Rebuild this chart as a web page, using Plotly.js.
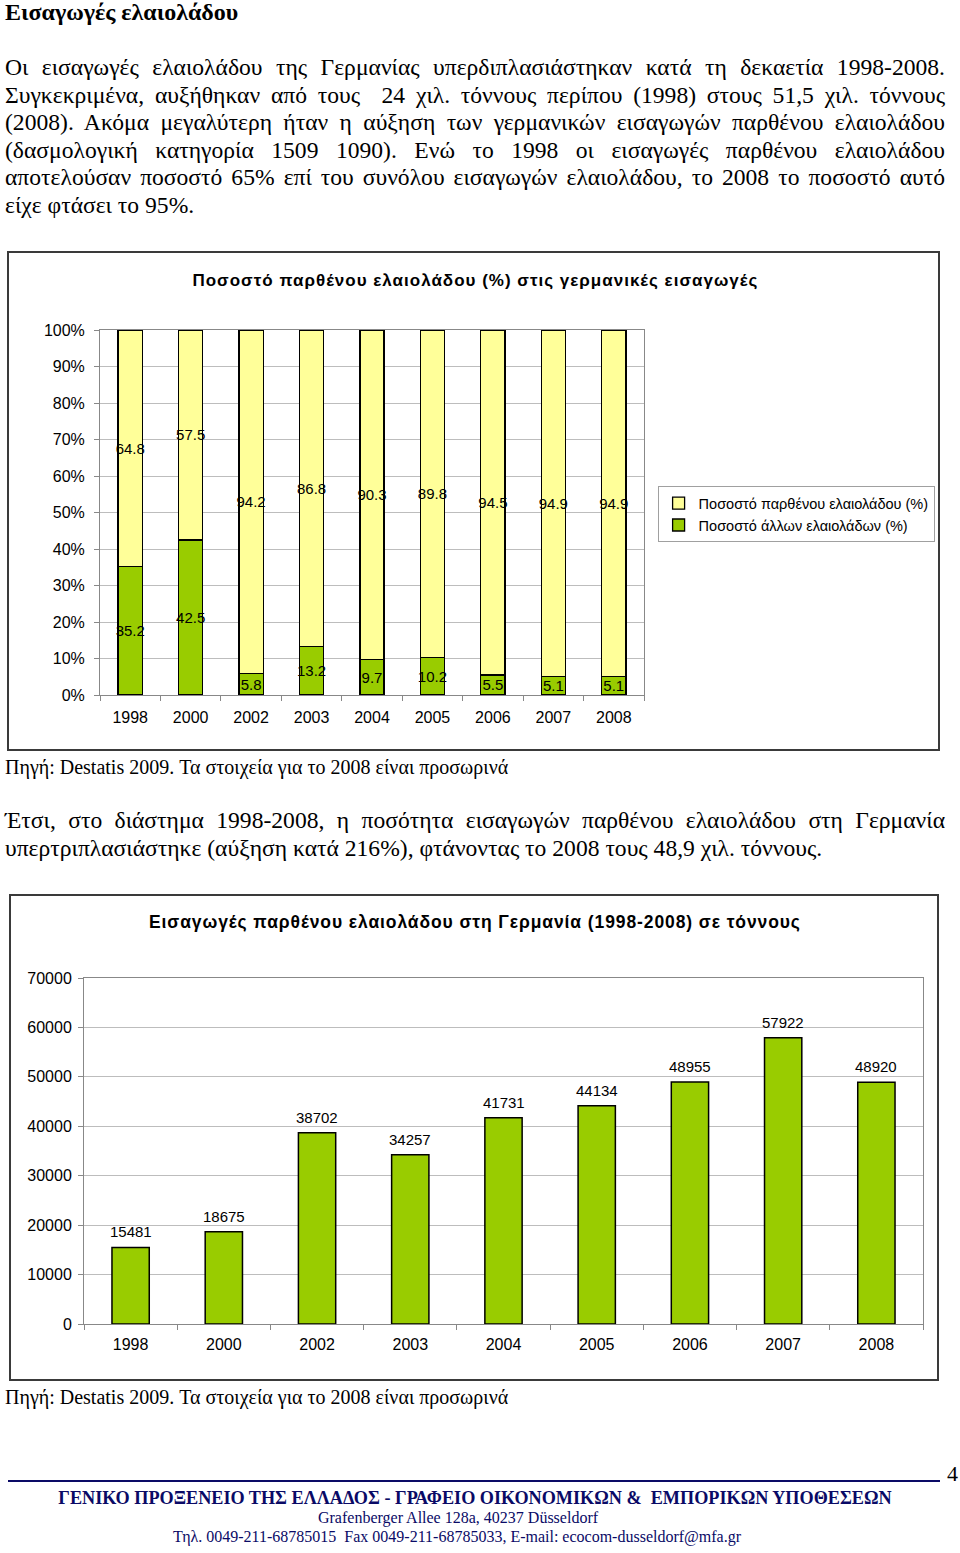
<!DOCTYPE html>
<html>
<head>
<meta charset="utf-8">
<script src="https://cdn.plot.ly/plotly-3.0.1.min.js"></script>
<style>
  html, body { margin:0; padding:0; background:#fff; }
  body { width:960px; height:1553px; position:relative; overflow:hidden; font-family:"Liberation Serif","Times New Roman",serif; color:#000; }
  .ln { position:absolute; left:5px; white-space:nowrap; font-size:23.6px; line-height:28px; height:28px; }
  .box { position:absolute; border:2px solid #3a3a3a; }
  .src { position:absolute; left:5px; font-size:20px; line-height:24px; white-space:nowrap; }
  .foot { position:absolute; text-align:center; color:#0a0a66; white-space:nowrap; }
  #c1 .gtitle { letter-spacing:1px; }
  #c2 .gtitle { letter-spacing:0.9px; }
</style>
</head>
<body>
<div class="ln" style="top:-2px;font-weight:bold;font-size:24px;">Εισαγωγές ελαιολάδου</div>

<div class="ln j" style="top:53px;">Οι εισαγωγές ελαιολάδου της Γερμανίας υπερδιπλασιάστηκαν κατά τη δεκαετία 1998-2008.</div>
<div class="ln j" style="top:81px;">Συγκεκριμένα, αυξήθηκαν από τους &nbsp;24 χιλ. τόννους περίπου (1998) στους 51,5 χιλ. τόννους</div>
<div class="ln j" style="top:108px;">(2008). Ακόμα μεγαλύτερη ήταν η αύξηση των γερμανικών εισαγωγών παρθένου ελαιολάδου</div>
<div class="ln j" style="top:136px;">(δασμολογική κατηγορία 1509 1090). Ενώ το 1998 οι εισαγωγές παρθένου ελαιολάδου</div>
<div class="ln j" style="top:163px;">αποτελούσαν ποσοστό 65% επί του συνόλου εισαγωγών ελαιολάδου, το 2008 το ποσοστό αυτό</div>
<div class="ln" style="top:191px;">είχε φτάσει το 95%.</div>

<div class="box" style="left:7px;top:251px;width:929px;height:496px;"><div id="c1" style="width:929px;height:496px;"></div></div>

<div class="src" style="top:755px;">Πηγή: Destatis 2009. Τα στοιχεία για το 2008 είναι προσωρινά</div>

<div class="ln j" style="top:806px;">Έτσι, στο διάστημα 1998-2008, η ποσότητα εισαγωγών παρθένου ελαιολάδου στη Γερμανία</div>
<div class="ln" style="top:834px;">υπερτριπλασιάστηκε (αύξηση κατά 216%), φτάνοντας το 2008 τους 48,9 χιλ. τόννους.</div>

<div class="box" style="left:9px;top:894px;width:926px;height:483px;"><div id="c2" style="width:926px;height:483px;"></div></div>

<div class="src" style="top:1385px;">Πηγή: Destatis 2009. Τα στοιχεία για το 2008 είναι προσωρινά</div>

<div style="position:absolute;left:8px;top:1480px;width:932px;height:2px;background:#0a0a66;"></div>
<div style="position:absolute;left:947px;top:1460px;font-size:22px;line-height:28px;">4</div>
<div class="foot" style="left:0;width:950px;top:1486px;font-size:18.2px;font-weight:bold;line-height:24px;">ΓΕΝΙΚΟ ΠΡΟΞΕΝΕΙΟ ΤΗΣ ΕΛΛΑΔΟΣ - ΓΡΑΦΕΙΟ ΟΙΚΟΝΟΜΙΚΩΝ &amp; &nbsp;ΕΜΠΟΡΙΚΩΝ ΥΠΟΘΕΣΕΩΝ</div>
<div class="foot" style="left:0;width:916px;top:1508px;font-size:16px;line-height:20px;">Grafenberger Allee 128a, 40237 Düsseldorf</div>
<div class="foot" style="left:0;width:914px;top:1527px;font-size:16px;line-height:20px;">Τηλ. 0049-211-68785015 &nbsp;Fax 0049-211-68785033, E-mail: ecocom-dusseldorf@mfa.gr</div>

<script>
// justify single lines to 940px by adjusting word spacing
document.querySelectorAll(".j").forEach(el => {
  const w = el.getBoundingClientRect().width;
  const spaces = (el.textContent.match(/[ \u00a0]/g) || []).length;
  if (spaces > 0) el.style.wordSpacing = ((940 - w) / spaces) + "px";
});

// ---- Data ----
const years = ["1998","2000","2002","2003","2004","2005","2006","2007","2008"];
const virginShare = [64.8, 57.5, 94.2, 86.8, 90.3, 89.8, 94.5, 94.9, 94.9];
const otherShare  = [35.2, 42.5, 5.8, 13.2, 9.7, 10.2, 5.5, 5.1, 5.1];
const virginTonnes = [15481, 18675, 38702, 34257, 41731, 44134, 48955, 57922, 48920];
const pctTicks = [0,10,20,30,40,50,60,70,80,90,100];
const tonTicks = [0,10000,20000,30000,40000,50000,60000,70000];

const FONT = "Arial, 'Liberation Sans', sans-serif";
const YELLOW = "#FFFF99";
const GREEN = "#99CC00";
const GRID = "#BDBDBD";
const AXIS = "#888888";

// ---- Chart 1 ----
const c1 = [
  {
    type:"bar", x:years, y:otherShare, name:"Ποσοστό άλλων ελαιολάδων (%)",
    marker:{color:GREEN, line:{color:"#000", width:1.3}},
    text:otherShare.map(String), textposition:"inside", insidetextanchor:"middle",
    textangle:0, constraintext:"none",
    textfont:{family:FONT, size:15, color:"#000"}, hoverinfo:"skip"
  },
  {
    type:"bar", x:years, y:virginShare, name:"Ποσοστό παρθένου ελαιολάδου (%)",
    marker:{color:YELLOW, line:{color:"#000", width:1.3}},
    text:virginShare.map(String), textposition:"inside", insidetextanchor:"middle",
    textangle:0, constraintext:"none",
    textfont:{family:FONT, size:15, color:"#000"}, hoverinfo:"skip"
  }
];
const l1 = {
  width:929, height:496,
  margin:{l:91, r:294, t:77, b:54, autoexpand:false},
  paper_bgcolor:"#fff", plot_bgcolor:"#fff",
  barmode:"stack", bargap:0.6,
  font:{family:FONT, size:16, color:"#000"},
  title:{text:"Ποσοστό παρθένου ελαιολάδου (%) στις γερμανικές εισαγωγές",
         font:{family:FONT, size:17, color:"#000", weight:"bold"},
         x:0.502, xref:"container", xanchor:"center", y:0.945, yref:"container", yanchor:"middle"},
  xaxis:{type:"category", showgrid:false, showline:true, linecolor:AXIS, mirror:true,
         ticks:"outside", tickson:"boundaries", ticklen:5, tickcolor:AXIS, ticklabelstandoff:8,
         tickfont:{family:FONT, size:16, color:"#000"}, fixedrange:true},
  yaxis:{range:[0,100], tickvals:pctTicks, ticktext:pctTicks.map(v=>v+"%"),
         showgrid:true, gridcolor:GRID, showline:true, linecolor:AXIS, mirror:true,
         ticks:"outside", ticklen:5, tickcolor:AXIS, zeroline:false, ticklabelstandoff:6,
         tickfont:{family:FONT, size:16, color:"#000"}, fixedrange:true},
  legend:{x:1.025, xanchor:"left", y:0.572, yanchor:"top", traceorder:"reversed",
          bordercolor:"#A0A0A0", borderwidth:1, font:{family:FONT, size:14.5, color:"#000"},
          itemwidth:30, tracegroupgap:0},
  showlegend:true
};
Plotly.newPlot("c1", c1, l1, {staticPlot:true, displayModeBar:false});

// ---- Chart 2 ----
const c2 = [{
  type:"bar", x:years, y:virginTonnes,
  marker:{color:GREEN, line:{color:"#000", width:1.5}},
  hoverinfo:"skip"
}];
// value labels above each bar (category index i on the category axis)
const c2Labels = virginTonnes.map((v, i) => ({
  x: i, y: v, xref:"x", yref:"y",
  text: String(v), showarrow:false,
  yanchor:"bottom", yshift:5,
  font:{family:FONT, size:15, color:"#000"}
}));
const l2 = {
  width:926, height:483,
  margin:{l:73, r:14, t:82, b:55, autoexpand:false},
  paper_bgcolor:"#fff", plot_bgcolor:"#fff",
  bargap:0.6, showlegend:false,
  font:{family:FONT, size:16, color:"#000"},
  title:{text:"Εισαγωγές παρθένου ελαιολάδου στη Γερμανία (1998-2008) σε τόννους",
         font:{family:FONT, size:17.5, color:"#000", weight:"bold"},
         x:0.501, xref:"container", xanchor:"center", y:0.946, yref:"container", yanchor:"middle"},
  xaxis:{type:"category", categoryarray:years, range:[-0.5, years.length - 0.5],
         showgrid:false, showline:true, linecolor:AXIS, mirror:true,
         ticks:"outside", tickson:"boundaries", ticklen:5, tickcolor:AXIS, ticklabelstandoff:6,
         tickfont:{family:FONT, size:16, color:"#000"}, fixedrange:true},
  yaxis:{range:[0,70000], tickvals:tonTicks, ticktext:tonTicks.map(String),
         showgrid:true, gridcolor:GRID, showline:true, linecolor:AXIS, mirror:true,
         ticks:"outside", ticklen:5, tickcolor:AXIS, zeroline:false, ticklabelstandoff:3,
         tickfont:{family:FONT, size:16, color:"#000"}, fixedrange:true},
  annotations: c2Labels
};
Plotly.newPlot("c2", c2, l2, {staticPlot:true, displayModeBar:false});
</script>
</body>
</html>
